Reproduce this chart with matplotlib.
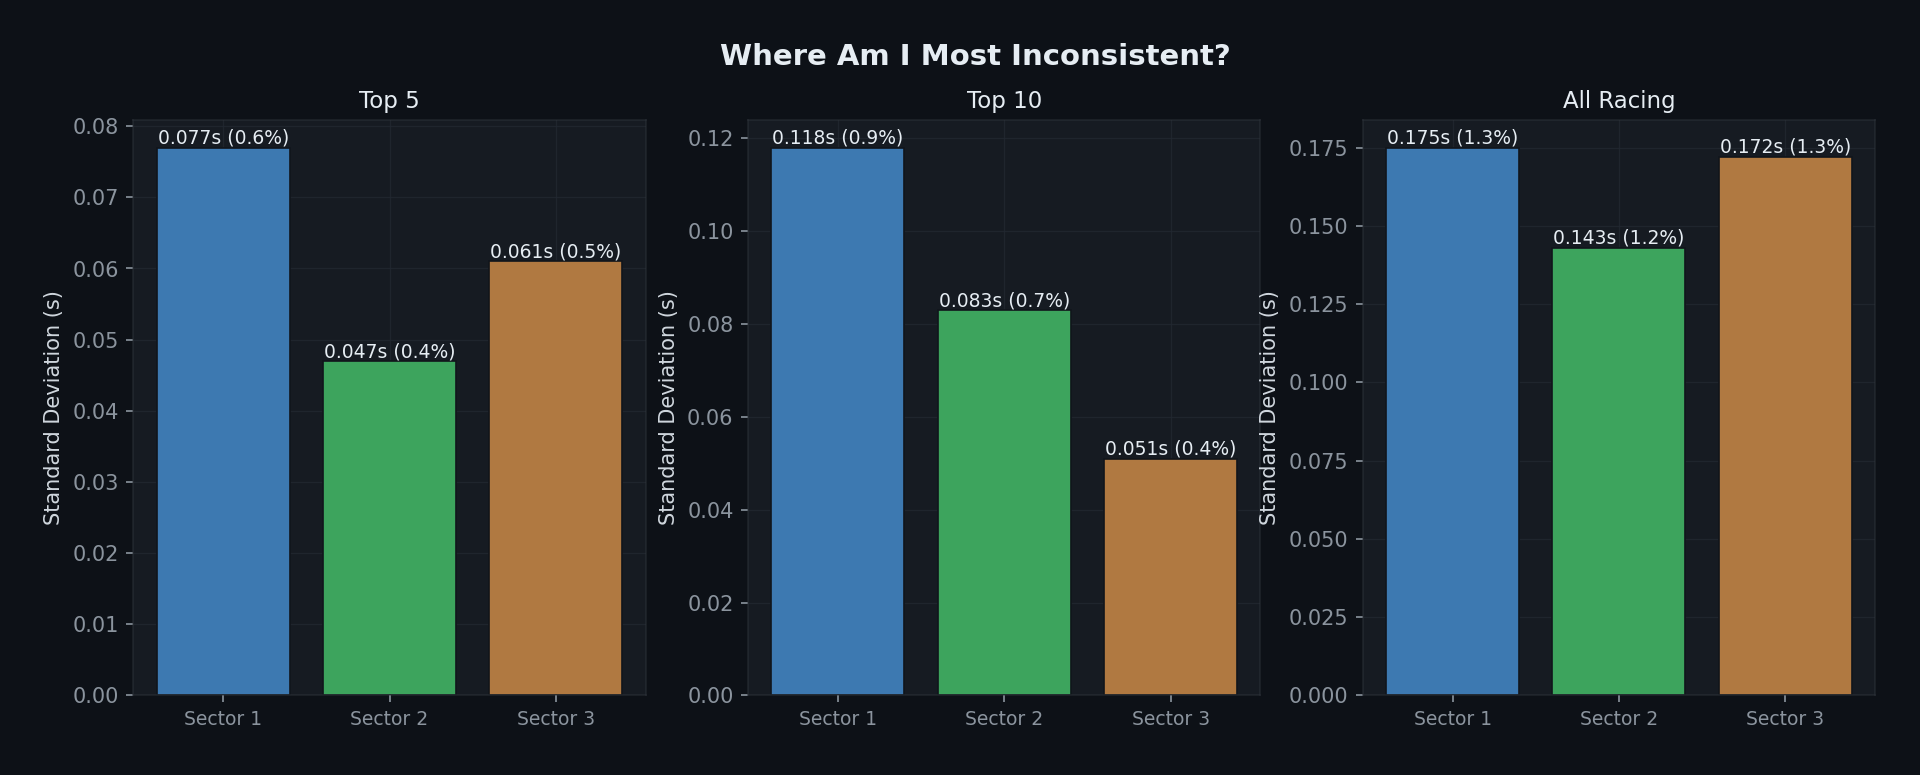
import matplotlib
matplotlib.use('Agg')
import matplotlib.pyplot as plt

# data
sectors = ['Sector 1', 'Sector 2', 'Sector 3']
panel_titles = ['Top 5', 'Top 10', 'All Racing']
top5_std = [0.077, 0.047, 0.061]
top5_pct = [0.6, 0.4, 0.5]
top10_std = [0.118, 0.083, 0.051]
top10_pct = [0.9, 0.7, 0.4]
all_std = [0.175, 0.143, 0.172]
all_pct = [1.3, 1.2, 1.3]

BG = '#0d1117'
PANEL = '#161b22'
EDGE = '#30363d'
bar_colors = ['#3d79b1', '#3da45d', '#b07941']

fig, axes = plt.subplots(1, 3, figsize=(12.8, 5.1667), dpi=150)
fig.patch.set_facecolor(BG)
fig.subplots_adjust(left=0.0695, right=0.9766, top=0.845, bottom=0.1026, wspace=0.2)

panels = [(top5_std, top5_pct), (top10_std, top10_pct), (all_std, all_pct)]
for ax, title, (std, pct) in zip(axes, panel_titles, panels):
    ax.set_facecolor(PANEL)
    ax.set_axisbelow(True)
    ax.bar(sectors, std, width=0.8, color=bar_colors, edgecolor='#11151b', linewidth=0.8)
    for i, (v, p) in enumerate(zip(std, pct)):
        ax.text(i, v, '%.3fs (%.1f%%)' % (v, p), ha='center', va='bottom',
                fontsize=9, color='#e6edf3')
    ax.set_title(title, color='#e6edf3', fontsize=11)
    ax.set_ylabel('Standard Deviation (s)', color='#d0d7de', fontsize=10)
    ax.grid(True, color='#222831', linestyle='-', linewidth=0.6, alpha=0.8)
    ax.tick_params(axis='y', colors='#8b949e', labelsize=10)
    ax.tick_params(axis='x', colors='#8b949e', labelsize=9)
    for s in ax.spines.values():
        s.set_color(EDGE)
        s.set_alpha(0.5)

fig.suptitle('Where Am I Most Inconsistent?', fontsize=14, fontweight='bold',
             color='#e6edf3', x=0.508, y=0.926, va='center')

plt.savefig('out.png', facecolor=BG)
